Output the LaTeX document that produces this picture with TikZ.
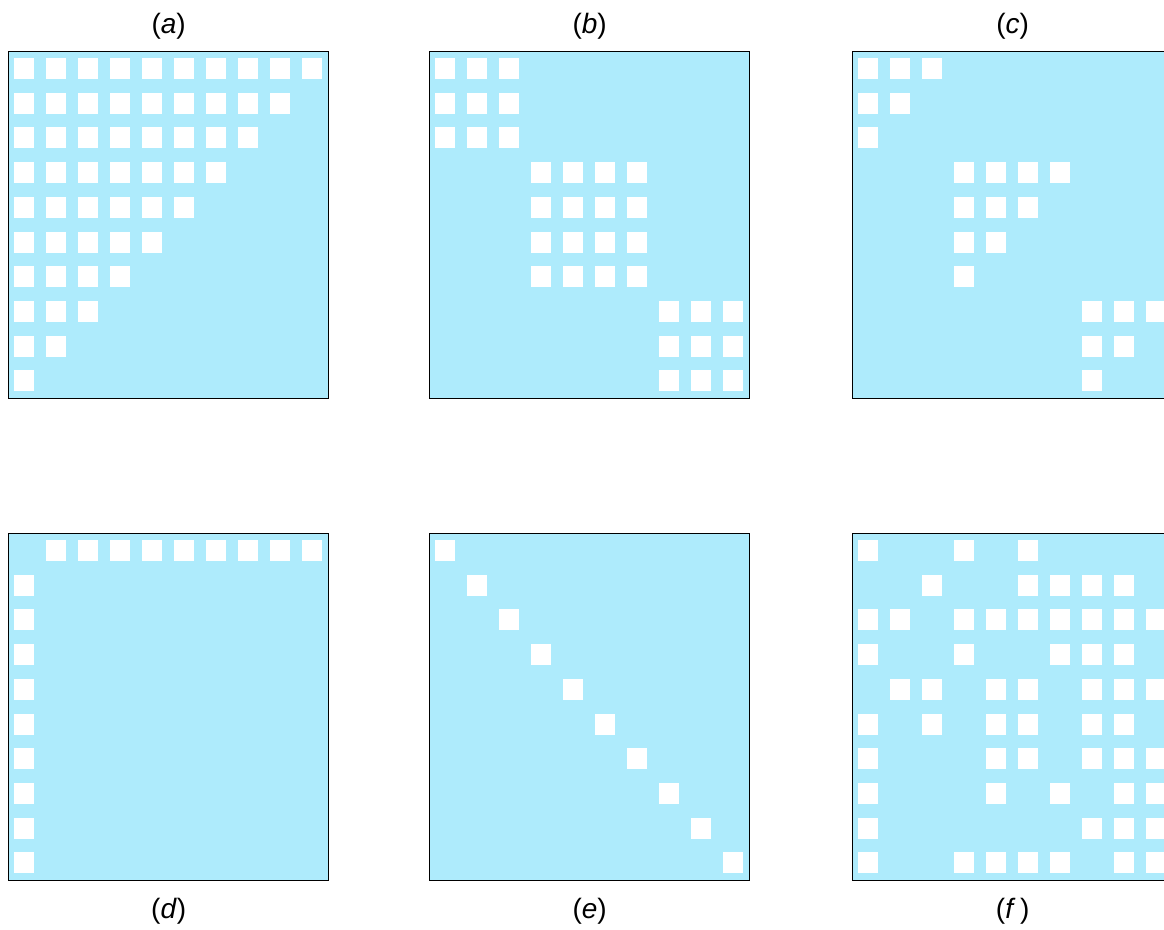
\documentclass[tikz,border=0pt]{standalone}
\usepackage{fontspec}
\setmainfont{Liberation Sans}
\usetikzlibrary{positioning,calc}
\definecolor{paleblue}{RGB}{174,235,252}

\begin{document}
\begin{tikzpicture}[x=1pt, y=-1pt,
  panel/.style={draw=black, line width=1.4pt, fill=paleblue, inner sep=0pt,
    minimum width=320pt, minimum height=347pt, anchor=north west},
  caption/.style={font=\fontsize{28}{33}\selectfont, inner sep=0pt}]

% ── Dimensions ───────────────────────────────────────────────────────
\def\cellW{32}     % column pitch
\def\cellH{34.7}   % row pitch
\def\sqW{20}       % white square width
\def\sqH{21}       % white square height

\useasboundingbox (0,0) rectangle (1164,929);
\clip (0,0) rectangle (1164,929);

% ── Macro: one nonzero entry ─────────────────────────────────────────
% #1=panel node, #2=row, #3=column
\newcommand{\nz}[3]{%
  \pgfmathsetmacro{\dx}{6+(#3)*\cellW}%
  \pgfmathsetmacro{\dy}{7+(#2)*\cellH}%
  \fill[white] ($(#1.north west)+(\dx,\dy)$) rectangle ++(\sqW,\sqH);
}

% ── Panels ───────────────────────────────────────────────────────────
\node[panel] (pa) at (8,51) {};
\node[panel] (pb) at (429,51) {};
\node[panel] (pc) at (852,51) {};
\node[panel] (pd) at (8,533) {};
\node[panel] (pe) at (429,533) {};
\node[panel] (pf) at (852,533) {};

% ── Captions ─────────────────────────────────────────────────────────
\node[caption, above=12pt of pa] (la) {(\textit{a})};
\node[caption, above=12pt of pb] (lb) {(\textit{b})};
\node[caption, above=12pt of pc] (lc) {(\textit{c})};
\node[caption, below=17pt of pd] (ld) {(\textit{d})};
\node[caption, below=17pt of pe] (le) {(\textit{e})};
\node[caption, below=17pt of pf] (lf) {(\textit{f}\,)};

% ── (a) upper-left triangle ──────────────────────────────────────────
\foreach \i in {0,...,9} {
  \pgfmathtruncatemacro{\last}{9-\i}
  \foreach \j in {0,...,\last} {\nz{pa}{\i}{\j}}
}

% ── (b) full diagonal blocks ─────────────────────────────────────────
\foreach \s/\n in {0/3,3/4,7/3} {
  \pgfmathtruncatemacro{\last}{\n-1}
  \foreach \a in {0,...,\last} {
    \foreach \b in {0,...,\last} {\nz{pb}{\s+\a}{\s+\b}}
  }
}

% ── (c) triangles inside the blocks ──────────────────────────────────
\foreach \s/\n in {0/3,3/4,7/3} {
  \pgfmathtruncatemacro{\last}{\n-1}
  \foreach \a in {0,...,\last} {
    \pgfmathtruncatemacro{\lastb}{\n-1-\a}
    \foreach \b in {0,...,\lastb} {\nz{pc}{\s+\a}{\s+\b}}
  }
}

% ── (d) first row and first column ───────────────────────────────────
\foreach \k in {1,...,9} {
  \nz{pd}{0}{\k}
  \nz{pd}{\k}{0}
}

% ── (e) diagonal ─────────────────────────────────────────────────────
\foreach \k in {0,...,9} {\nz{pe}{\k}{\k}}

% ── (f) scattered pattern, row/columns ───────────────────────────────
\foreach \i/\cols in {0/{0,3,5}, 1/{2,5,6,7,8}, 2/{0,1,3,4,5,6,7,8,9},
    3/{0,3,6,7,8}, 4/{1,2,4,5,7,8,9}, 5/{0,2,4,5,7,8},
    6/{0,4,5,7,8,9}, 7/{0,4,6,8,9}, 8/{0,7,8,9}, 9/{0,3,4,5,6,8,9}} {
  \foreach \j in \cols {\nz{pf}{\i}{\j}}
}

\end{tikzpicture}
\end{document}
